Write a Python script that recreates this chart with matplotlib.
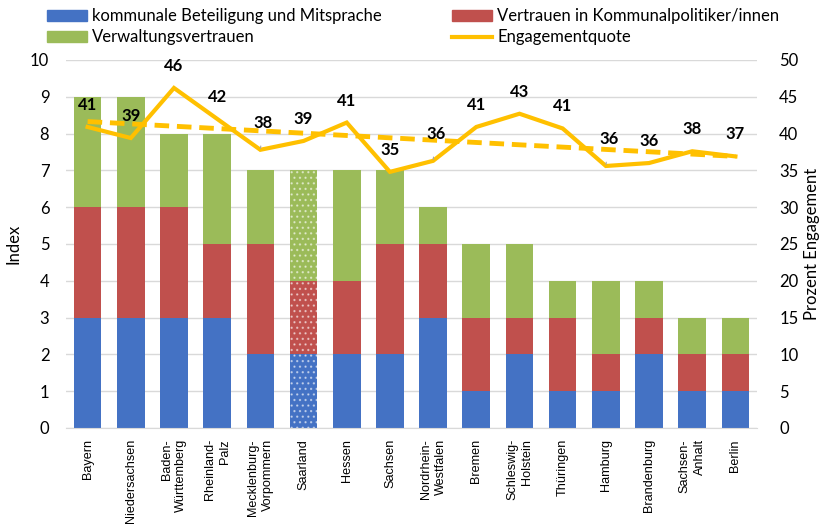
import matplotlib
matplotlib.use("Agg")
import matplotlib.pyplot as plt
import numpy as np
from matplotlib.patches import Patch
from matplotlib.lines import Line2D

plt.rcParams['font.family'] = ['Lato', 'DejaVu Sans']

# Bundesländer, sortiert nach Gesamtindex
laender = ["Bayern", "Niedersachsen", "Baden-\nWürttemberg", "Rheinland-\nPalz",
           "Mecklenburg-\nVorpommern", "Saarland", "Hessen", "Sachsen",
           "Nordrhein-\nWestfalen", "Bremen", "Schleswig-\nHolstein", "Thüringen",
           "Hamburg", "Brandenburg", "Sachsen-\nAnhalt", "Berlin"]

beteiligung = [3, 3, 3, 3, 2, 2, 2, 2, 3, 1, 2, 1, 1, 2, 1, 1]
vertrauen_pol = [3, 3, 3, 2, 3, 2, 2, 3, 2, 2, 1, 2, 1, 1, 1, 1]
verwaltung = [3, 3, 2, 3, 2, 3, 3, 2, 1, 2, 2, 1, 2, 1, 1, 1]

# Engagementquote in Prozent
quote = [40.9, 39.4, 46.2, 42.0, 37.8, 39.0, 41.5, 34.8,
         36.3, 40.9, 42.7, 40.7, 35.6, 36.0, 37.6, 36.9]
quote_label = [41, 39, 46, 42, 38, 39, 41, 35, 36, 41, 43, 41, 36, 36, 38, 37]
# Beschriftungen mit Führungslinie
mit_linie = [4, 8, 12]

c_blau = "#4472C4"
c_rot = "#C0504D"
c_gruen = "#9BBB59"
c_gelb = "#FFC000"

plt.rcParams['hatch.linewidth'] = 0.9

fig = plt.figure(figsize=(8.21, 5.26), dpi=100)
ax = fig.add_axes([66/821, 98/526, (757-66)/821, (428-60)/526])
ax2 = ax.twinx()

x = np.arange(len(laender))
b1 = np.array(beteiligung)
b2 = np.array(vertrauen_pol)
b3 = np.array(verwaltung)

w = 0.64
bars1 = ax.bar(x, b1, w, color=c_blau, zorder=2)
bars2 = ax.bar(x, b2, w, bottom=b1, color=c_rot, zorder=2)
bars3 = ax.bar(x, b3, w, bottom=b1 + b2, color=c_gruen, zorder=2)

# Saarland gepunktet
for bars in (bars1, bars2, bars3):
    p = bars[5]
    p.set_hatch('...')
    p.set_edgecolor((1, 1, 1, 0.5))
    p.set_linewidth(0)

ax.set_xlim(-0.5, len(laender) - 0.5)
ax.set_ylim(0, 10)
ax.set_yticks(range(0, 11))
ax.grid(axis='y', color='#d9d9d9', linewidth=1, zorder=0)
ax.set_axisbelow(True)
for s in ['top', 'left', 'right']:
    ax.spines[s].set_visible(False)
ax.spines['bottom'].set_color('#d9d9d9')
ax.tick_params(axis='both', length=0)
ax.tick_params(axis='y', labelsize=12, pad=12)
ax.set_xticks(x)
ax.set_xticklabels(laender, rotation=90, ha='center', va='top',
                   multialignment='right', fontsize=9.1, linespacing=1.3,
                   family=['Liberation Sans', 'DejaVu Sans'])
ax.tick_params(axis='x', pad=8)
ax.set_ylabel("Index", fontsize=12, labelpad=6)

ax2.set_ylim(0, 50)
ax2.set_yticks(range(0, 51, 5))
for s in ['top', 'left', 'right', 'bottom']:
    ax2.spines[s].set_visible(False)
ax2.tick_params(axis='y', length=0, labelsize=12, pad=16)
ax2.set_ylabel("Prozent Engagement", fontsize=12, labelpad=4)

q = np.array(quote)
ax2.plot(x, q, color=c_gelb, linewidth=3, zorder=4, solid_joinstyle='miter')
trend = np.polyval(np.polyfit(x, q, 1), x)
ax2.plot(x, trend, color=c_gelb, linewidth=3.5, dashes=(3, 1.6), zorder=4)

for i, (xi, qi, lab) in enumerate(zip(x, q, quote_label)):
    if i in mit_linie:
        ax2.annotate(str(lab), (xi, qi), xytext=(3, 27), textcoords='offset pixels',
                     ha='center', va='center', fontsize=12, fontweight='bold',
                     zorder=5,
                     arrowprops=dict(arrowstyle='-', color='#a6a6a6', lw=0.8,
                                     shrinkA=9, shrinkB=1))
    else:
        ax2.annotate(str(lab), (xi, qi), xytext=(0, 22), textcoords='offset pixels',
                     ha='center', va='center', fontsize=12, fontweight='bold',
                     zorder=5)

handles = [Patch(color=c_blau), Patch(color=c_gruen),
           Patch(color=c_rot), Line2D([], [], color=c_gelb, linewidth=3)]
labels = ["kommunale Beteiligung und Mitsprache", "Verwaltungsvertrauen",
          "Vertrauen in Kommunalpolitiker/innen", "Engagementquote"]
fig.legend(handles, labels, ncol=2, loc='upper left',
           bbox_to_anchor=(39/821, 1.0), frameon=False, fontsize=12,
           handlelength=2.4, handleheight=0.6, handletextpad=0.3,
           columnspacing=4.2, labelspacing=0.3, borderaxespad=0.1)

fig.savefig("out.png", dpi=100)
